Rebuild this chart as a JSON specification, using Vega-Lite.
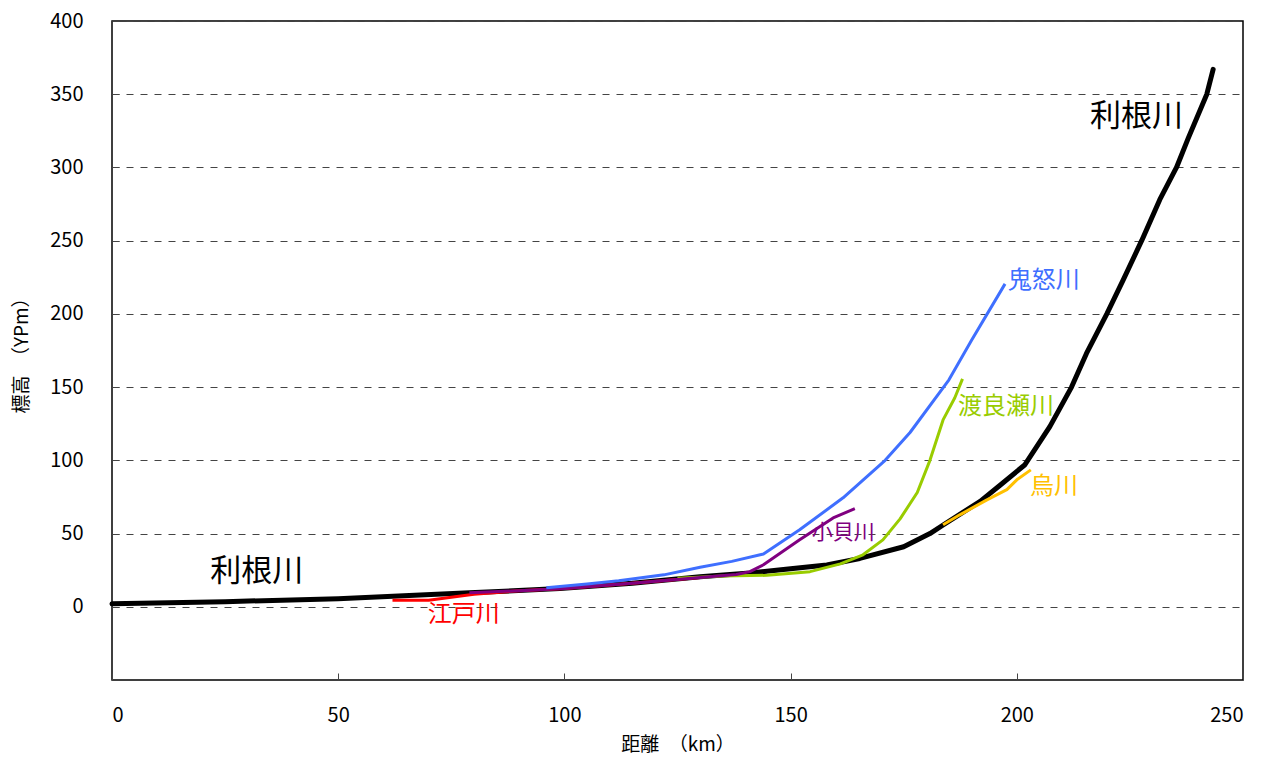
{
  "$schema": "https://vega.github.io/schema/vega-lite/v6.json",
  "width": 1131,
  "height": 659,
  "autosize": {"type": "none"},
  "padding": {"left": 112, "top": 21, "right": 32, "bottom": 80},
  "background": "white",
  "config": {
    "font": "Noto Sans CJK JP",
    "view": {"stroke": "black", "strokeWidth": 1.5},
    "axis": {
      "labelFont": "Noto Sans CJK JP",
      "titleFont": "Noto Sans CJK JP",
      "labelColor": "black",
      "titleColor": "black",
      "labelFontSize": 20,
      "titleFontSize": 19,
      "titleFontWeight": "normal",
      "domain": false,
      "tickColor": "#444",
      "gridColor": "#444",
      "gridDash": [7, 7],
      "gridWidth": 1
    }
  },
  "datasets": {
    "lines": [
      {"river": "利根川", "x": 0, "y": 2},
      {"river": "利根川", "x": 25, "y": 3.5},
      {"river": "利根川", "x": 50, "y": 5.5},
      {"river": "利根川", "x": 79, "y": 9.5},
      {"river": "利根川", "x": 99, "y": 12.5},
      {"river": "利根川", "x": 115, "y": 16},
      {"river": "利根川", "x": 130, "y": 20.5},
      {"river": "利根川", "x": 141, "y": 23},
      {"river": "利根川", "x": 150, "y": 26},
      {"river": "利根川", "x": 158, "y": 28.5},
      {"river": "利根川", "x": 165.3, "y": 33},
      {"river": "利根川", "x": 175, "y": 41},
      {"river": "利根川", "x": 180.8, "y": 50},
      {"river": "利根川", "x": 183.8, "y": 56},
      {"river": "利根川", "x": 191.9, "y": 72},
      {"river": "利根川", "x": 196.3, "y": 83},
      {"river": "利根川", "x": 201.8, "y": 97},
      {"river": "利根川", "x": 207.3, "y": 123},
      {"river": "利根川", "x": 212.1, "y": 150},
      {"river": "利根川", "x": 215.4, "y": 173},
      {"river": "利根川", "x": 219.9, "y": 200},
      {"river": "利根川", "x": 223.5, "y": 223},
      {"river": "利根川", "x": 227.6, "y": 250},
      {"river": "利根川", "x": 231.6, "y": 278},
      {"river": "利根川", "x": 235.3, "y": 300},
      {"river": "利根川", "x": 237.9, "y": 320},
      {"river": "利根川", "x": 242, "y": 350},
      {"river": "利根川", "x": 243.4, "y": 367},
      {"river": "江戸川", "x": 62, "y": 4.5},
      {"river": "江戸川", "x": 70, "y": 4.5},
      {"river": "江戸川", "x": 75, "y": 6.5},
      {"river": "江戸川", "x": 80, "y": 8.5},
      {"river": "江戸川", "x": 90, "y": 11},
      {"river": "江戸川", "x": 100, "y": 12.5},
      {"river": "江戸川", "x": 115, "y": 16},
      {"river": "江戸川", "x": 130, "y": 20},
      {"river": "渡良瀬川", "x": 125, "y": 19.5},
      {"river": "渡良瀬川", "x": 135, "y": 21},
      {"river": "渡良瀬川", "x": 144.8, "y": 21.5},
      {"river": "渡良瀬川", "x": 154.3, "y": 24},
      {"river": "渡良瀬川", "x": 161, "y": 29.3},
      {"river": "渡良瀬川", "x": 166, "y": 35.5},
      {"river": "渡良瀬川", "x": 170.4, "y": 45.7},
      {"river": "渡良瀬川", "x": 174.2, "y": 60},
      {"river": "渡良瀬川", "x": 178, "y": 78},
      {"river": "渡良瀬川", "x": 180.8, "y": 100},
      {"river": "渡良瀬川", "x": 183.7, "y": 127.6},
      {"river": "渡良瀬川", "x": 186.3, "y": 142.7},
      {"river": "渡良瀬川", "x": 188, "y": 155.6},
      {"river": "小貝川", "x": 79, "y": 9.5},
      {"river": "小貝川", "x": 90, "y": 11},
      {"river": "小貝川", "x": 100, "y": 12.5},
      {"river": "小貝川", "x": 115, "y": 16},
      {"river": "小貝川", "x": 130, "y": 20},
      {"river": "小貝川", "x": 138, "y": 22},
      {"river": "小貝川", "x": 141, "y": 24},
      {"river": "小貝川", "x": 144, "y": 28.7},
      {"river": "小貝川", "x": 152, "y": 45.7},
      {"river": "小貝川", "x": 159.4, "y": 60.7},
      {"river": "小貝川", "x": 164.2, "y": 67},
      {"river": "鬼怒川", "x": 96, "y": 13},
      {"river": "鬼怒川", "x": 105, "y": 15.5},
      {"river": "鬼怒川", "x": 112, "y": 17.7},
      {"river": "鬼怒川", "x": 122, "y": 21.8},
      {"river": "鬼怒川", "x": 130, "y": 27},
      {"river": "鬼怒川", "x": 137, "y": 31},
      {"river": "鬼怒川", "x": 144, "y": 36},
      {"river": "鬼怒川", "x": 152, "y": 52.6},
      {"river": "鬼怒川", "x": 161.6, "y": 74.4},
      {"river": "鬼怒川", "x": 170.9, "y": 100},
      {"river": "鬼怒川", "x": 176.4, "y": 119},
      {"river": "鬼怒川", "x": 185, "y": 155},
      {"river": "鬼怒川", "x": 190, "y": 182},
      {"river": "鬼怒川", "x": 197.4, "y": 220.5},
      {"river": "烏川", "x": 183.7, "y": 56},
      {"river": "烏川", "x": 187.4, "y": 62.8},
      {"river": "烏川", "x": 193.4, "y": 73},
      {"river": "烏川", "x": 197.8, "y": 80},
      {"river": "烏川", "x": 200, "y": 86.7},
      {"river": "烏川", "x": 203.1, "y": 93.5}
    ],
    "labels": [
      {"river": "利根川", "x": 21.7, "y": 23.9},
      {"river": "利根川", "x": 216.2, "y": 334.5},
      {"river": "鬼怒川", "x": 198, "y": 222.5},
      {"river": "渡良瀬川", "x": 187, "y": 136.5},
      {"river": "烏川", "x": 202.9, "y": 82},
      {"river": "小貝川", "x": 154.7, "y": 50.5},
      {"river": "江戸川", "x": 69.8, "y": -5.5}
    ]
  },
  "encoding": {
    "x": {
      "field": "x", "type": "quantitative",
      "scale": {"domain": [0, 250], "nice": false, "zero": false},
      "axis": {
        "title": "距離　（km）",
        "values": [0, 50, 100, 150, 200, 250],
        "grid": false,
        "tickSize": -7,
        "labelPadding": 32,
        "titlePadding": 10
      }
    },
    "y": {
      "field": "y", "type": "quantitative",
      "scale": {"domain": [-50, 400], "nice": false, "zero": false},
      "axis": {
        "title": "標高　（YPm）",
        "values": [0, 50, 100, 150, 200, 250, 300, 350, 400],
        "grid": true,
        "tickSize": -7,
        "labelPadding": 36,
        "titlePadding": 18
      }
    },
    "color": {
      "field": "river", "type": "nominal",
      "scale": {
        "domain": ["利根川", "江戸川", "渡良瀬川", "小貝川", "鬼怒川", "烏川"],
        "range": ["#000000", "#FF0000", "#99CC00", "#800080", "#3F6FFF", "#FFC000"]
      },
      "legend": null
    }
  },
  "layer": [
    {
      "data": {"name": "lines"},
      "transform": [{"filter": "datum.river === '利根川'"}],
      "mark": {"type": "line", "strokeWidth": 5, "strokeJoin": "round", "strokeCap": "round"}
    },
    {
      "data": {"name": "lines"},
      "transform": [{"filter": "datum.river !== '利根川'"}],
      "mark": {"type": "line", "strokeWidth": 3, "strokeJoin": "round"}
    },
    {
      "data": {"name": "labels"},
      "transform": [{"filter": "datum.river === '利根川'"}],
      "mark": {"type": "text", "align": "left", "baseline": "middle", "fontSize": 31, "font": "Noto Sans CJK JP"},
      "encoding": {"text": {"field": "river"}}
    },
    {
      "data": {"name": "labels"},
      "transform": [{"filter": "datum.river !== '利根川' && datum.river !== '小貝川'"}],
      "mark": {"type": "text", "align": "left", "baseline": "middle", "fontSize": 24, "font": "Noto Sans CJK JP"},
      "encoding": {"text": {"field": "river"}}
    },
    {
      "data": {"name": "labels"},
      "transform": [{"filter": "datum.river === '小貝川'"}],
      "mark": {"type": "text", "align": "left", "baseline": "middle", "fontSize": 21, "font": "Noto Sans CJK JP"},
      "encoding": {"text": {"field": "river"}}
    }
  ]
}
